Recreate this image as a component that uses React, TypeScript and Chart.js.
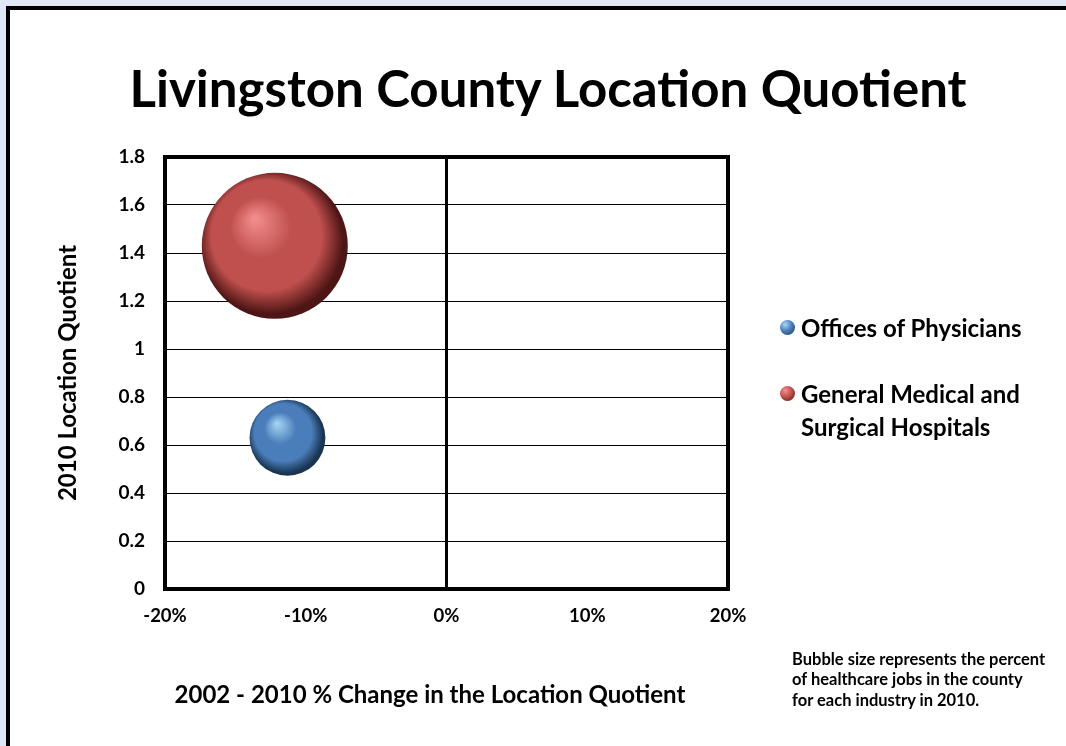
import React, { useEffect, useRef } from "react";
import { Chart, registerables } from "chart.js";

Chart.register(...registerables);

// ---- Data ----
const categories = ["Offices of Physicians", "General Medical and Surgical Hospitals"];
const legendLines = [["Offices of Physicians"], ["General Medical and", "Surgical Hospitals"]];
const lqChangePct = [-11.3, -12.2]; // 2002-2010 % change in LQ
const lq2010 = [0.63, 1.43]; // 2010 location quotient
const jobsSharePct = [10, 37]; // estimated % of healthcare jobs (bubble size)
const xTickValues = [-20, -10, 0, 10, 20];
const yTickValues = [0, 0.2, 0.4, 0.6, 0.8, 1, 1.2, 1.4, 1.6, 1.8];

const titleText = "Livingston County Location Quotient";
const xTitle = "2002 - 2010 % Change in the Location Quotient";
const yTitle = "2010 Location Quotient";
const noteLines = [
  "Bubble size represents the percent",
  "of healthcare jobs in the county",
  "for each industry in 2010.",
];

// ---- Styles ----
const FONT = "Lato, 'Open Sans', sans-serif";
const RADIUS_PER_SQRT_PCT = 12;
const palettes = [
  { base: "#4a7ebb", light: "#a8d8f6", dark: "#1a3552" },
  { base: "#c0504d", light: "#f59090", dark: "#4e1515" },
];

const framePlugin = {
  id: "frame",
  beforeDatasetsDraw(chart: any) {
    const { ctx, chartArea } = chart;
    ctx.save();
    ctx.strokeStyle = "#000";
    ctx.lineWidth = 4;
    ctx.strokeRect(chartArea.left, chartArea.top, chartArea.right - chartArea.left, chartArea.bottom - chartArea.top);
    ctx.restore();
  },
};

function sphereFill(context: any, idx: number) {
  const p = palettes[idx];
  const chart = context.chart;
  const raw = context.raw;
  if (!raw || !chart.chartArea) return p.base;
  const x = chart.scales.x.getPixelForValue(raw.x);
  const y = chart.scales.y.getPixelForValue(raw.y);
  const r = raw.r;
  const g = chart.ctx.createRadialGradient(x - 0.28 * r, y - 0.38 * r, 0, x - 0.05 * r, y - 0.05 * r, r * 1.05);
  g.addColorStop(0, p.light);
  g.addColorStop(0.4, p.base);
  g.addColorStop(0.72, p.base);
  g.addColorStop(0.95, p.dark);
  g.addColorStop(1, p.dark);
  return g;
}

export default function App() {
  const canvasRef = useRef<HTMLCanvasElement | null>(null);

  useEffect(() => {
    if (!canvasRef.current) return;
    const datasets = categories.map((name, i) => ({
      label: name,
      data: [{ x: lqChangePct[i], y: lq2010[i], r: RADIUS_PER_SQRT_PCT * Math.sqrt(jobsSharePct[i]) }],
      backgroundColor: (c: any) => sphereFill(c, i),
      borderWidth: 0,
      hoverBorderWidth: 0,
    }));
    const chart = new Chart(canvasRef.current, {
      type: "bubble",
      data: { datasets },
      plugins: [framePlugin],
      options: {
        responsive: false,
        animation: false,
        events: [],
        layout: { padding: { left: 52, right: 338, top: 157, bottom: 25 } },
        plugins: { legend: { display: false }, title: { display: false }, tooltip: { enabled: false } },
        scales: {
          x: {
            type: "linear",
            min: -20,
            max: 20,
            afterBuildTicks: (s: any) => {
              s.ticks = xTickValues.map((v) => ({ value: v }));
            },
            afterFit: (s: any) => {
              s.height = 132;
            },
            border: { display: false },
            grid: {
              drawTicks: false,
              color: (c: any) => (c.tick && c.tick.value === 0 ? "#000" : "rgba(0,0,0,0)"),
              lineWidth: (c: any) => (c.tick && c.tick.value === 0 ? 3 : 0),
            },
            ticks: {
              padding: 16,
              color: "#000",
              font: { family: FONT, size: 18.5, weight: "bold" },
              callback: (v: any) => `${v}%`,
            },
          },
          y: {
            type: "linear",
            min: 0,
            max: 1.8,
            afterBuildTicks: (s: any) => {
              s.ticks = yTickValues.map((v) => ({ value: v }));
            },
            afterFit: (s: any) => {
              s.width = 113;
            },
            border: { display: false },
            grid: { drawTicks: false, color: "#000", lineWidth: 1 },
            ticks: {
              padding: 20,
              color: "#000",
              font: { family: FONT, size: 19, weight: "bold" },
              callback: (v: any) => `${Math.round(Number(v) * 10) / 10}`,
            },
            title: {
              display: true,
              text: yTitle,
              color: "#000",
              font: { family: FONT, size: 24, weight: "bold" },
              padding: { top: 2, bottom: 0 },
            },
          },
        },
      } as any,
    });
    return () => chart.destroy();
  }, []);

  const legendDot = (i: number): React.CSSProperties => ({
    position: "absolute",
    left: -21,
    top: 9,
    width: 15,
    height: 15,
    borderRadius: "50%",
    background: `radial-gradient(circle at 35% 30%, ${palettes[i].light} 0%, ${palettes[i].base} 45%, ${palettes[i].dark} 100%)`,
  });

  return (
    <div
      style={{
        position: "absolute",
        left: 0,
        top: 0,
        width: 1066,
        height: 746,
        overflow: "hidden",
        background: "#e1e8f5",
        fontFamily: FONT,
      }}
    >
      <div
        style={{
          position: "absolute",
          left: 6,
          top: 6,
          width: 1120,
          height: 800,
          border: "4px solid #000",
          background: "#fff",
        }}
      />
      <div
        style={{
          position: "absolute",
          left: 0,
          width: 1096,
          top: 56,
          textAlign: "center",
          fontSize: 51,
          fontWeight: 700,
          color: "#000",
          lineHeight: "64px",
          whiteSpace: "nowrap",
        }}
      >
        {titleText}
      </div>
      <canvas ref={canvasRef} width={1066} height={746} style={{ position: "absolute", left: 0, top: 0 }} />
      <div
        style={{
          position: "absolute",
          left: 230,
          width: 400,
          top: 679,
          textAlign: "center",
          fontSize: 24,
          fontWeight: 700,
          lineHeight: "30px",
          color: "#000",
          whiteSpace: "nowrap",
          display: "flex",
          justifyContent: "center",
        }}
      >
        {xTitle}
      </div>
      {legendLines.map((lines, i) => (
        <div
          key={i}
          style={{
            position: "absolute",
            left: 801,
            top: i === 0 ? 310.5 : 376.5,
            fontSize: 24,
            fontWeight: 700,
            lineHeight: "33px",
            color: "#000",
            whiteSpace: "nowrap",
          }}
        >
          <div style={legendDot(i)} />
          {lines.map((l, k) => (
            <div key={k}>{l}</div>
          ))}
        </div>
      ))}
      <div
        style={{
          position: "absolute",
          left: 792,
          top: 648.5,
          fontSize: 16.5,
          fontWeight: 700,
          lineHeight: "20.5px",
          color: "#000",
          whiteSpace: "nowrap",
        }}
      >
        {noteLines.map((l, k) => (
          <div key={k}>{l}</div>
        ))}
      </div>
    </div>
  );
}
